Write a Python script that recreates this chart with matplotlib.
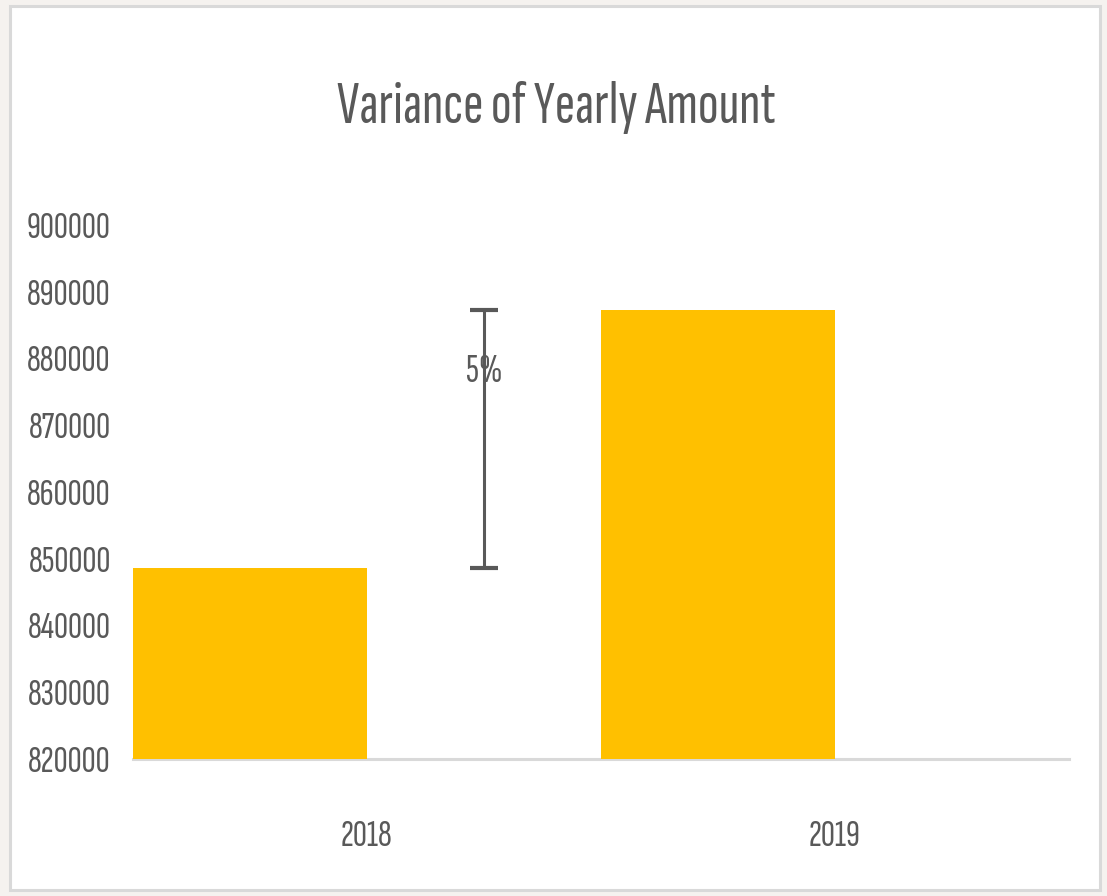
import matplotlib
matplotlib.use("Agg")
import matplotlib.pyplot as plt
from matplotlib.patches import Rectangle

# ---- data ----
years = ["2018", "2019"]
amounts = [848600, 887300]
y_ticks = [820000, 830000, 840000, 850000, 860000, 870000, 880000, 890000, 900000]
title = "Variance of Yearly Amount"

FONT = ["Sofia Sans Extra Condensed", "DejaVu Sans"]
TXT = "#595959"
BAR = "#FFC000"

plt.rcParams["font.family"] = FONT

fig = plt.figure(figsize=(11.07, 8.96), dpi=100)
fig.patch.set_facecolor("#F5F2EF")

# white chart panel with light grey frame
panel = Rectangle((10 / 1107, 6 / 896), 1090 / 1107, 884 / 896, transform=fig.transFigure,
                  facecolor="white", edgecolor="#D9D9D9", linewidth=2.2, zorder=-5)
fig.patches.append(panel)

ax = fig.add_axes([133 / 1107, 1 - 759 / 896, 936 / 1107, 534 / 896])
ax.set_zorder(2)
ax.set_facecolor("none")

x = list(range(len(years)))
ax.bar([xi - 0.25 for xi in x], amounts, width=0.5, color=BAR, bottom=0,
       zorder=2)

# variance error bar between the two years
diff = amounts[1] - amounts[0]
ax.errorbar([x[0] + 0.25], [amounts[0]], yerr=[[0], [diff]], fmt="none",
            ecolor=TXT, elinewidth=2.2, capsize=10, capthick=3, zorder=3)
pct = diff / amounts[0] * 100
ax.text(x[0] + 0.25, amounts[0] + diff * 0.76, f"{pct:.0f}%", ha="center", va="center",
        fontsize=29, color=TXT, fontweight="light", zorder=4)

ax.set_xlim(-0.5, 1.5)
ax.set_ylim(y_ticks[0], y_ticks[-1])
ax.set_yticks(y_ticks)
ax.set_yticklabels([str(v) for v in y_ticks])
ax.set_xticks(x)
ax.set_xticklabels(years)
ax.tick_params(axis="both", length=0, colors=TXT, labelsize=28)
ax.tick_params(axis="y", pad=16)
ax.tick_params(axis="x", pad=44)
for lab in ax.get_xticklabels() + ax.get_yticklabels():
    lab.set_fontweight("light")

for s in ["top", "right", "left"]:
    ax.spines[s].set_visible(False)
ax.spines["bottom"].set_color("#D9D9D9")
ax.spines["bottom"].set_linewidth(2.2)
ax.spines["bottom"].set_zorder(1)

fig.text(556 / 1107, 1 - 108 / 896, title, ha="center", va="center",
         fontsize=44, color=TXT, fontweight="light")

fig.savefig("out.png", dpi=100, facecolor=fig.get_facecolor())
